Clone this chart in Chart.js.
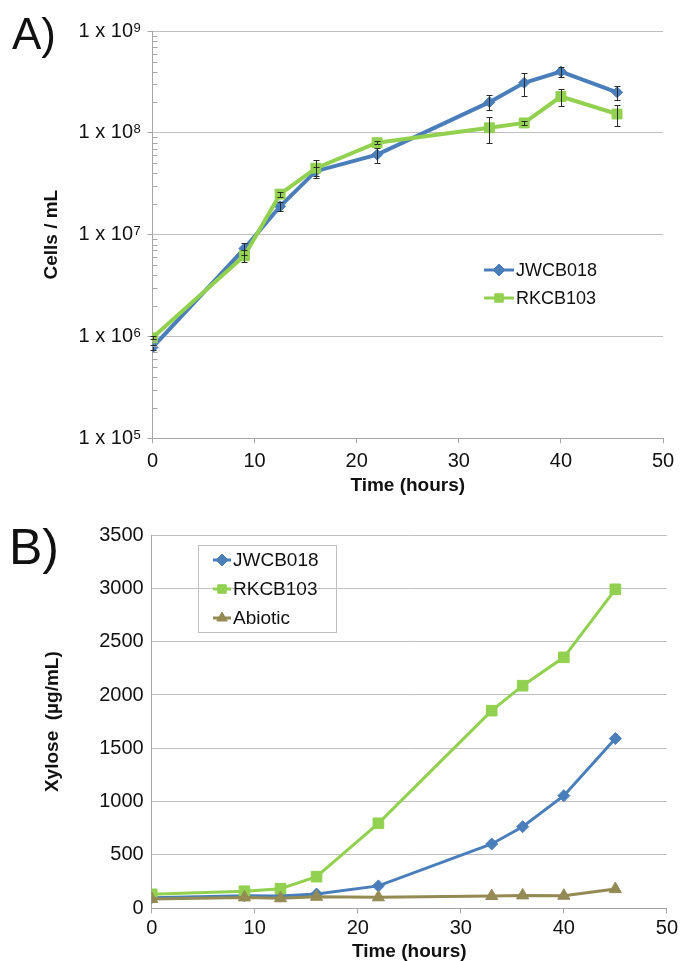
<!DOCTYPE html>
<html>
<head>
<meta charset="utf-8">
<script src="https://cdn.jsdelivr.net/npm/chart.js@4.4.0/dist/chart.umd.min.js"></script>
<style>
  body { margin: 0; background: #fff; width: 681px; height: 961px; overflow: hidden; position: relative; }
  canvas { position: absolute; left: 0; }
  #cellChart { top: 0; }
  #xyloseChart { top: 500px; }
  .panel { position: absolute; font-family: "Liberation Sans", Arial, sans-serif; line-height: 1; color: #111; }
</style>
</head>
<body>
<canvas id="cellChart" width="681" height="500"></canvas>
<canvas id="xyloseChart" width="681" height="461"></canvas>
<div class="panel" style="left:12px;top:12px;font-size:44px">A)</div>
<div class="panel" style="left:9px;top:522px;font-size:50px">B)</div>
<script>
// A) cell counts
const cellHours = [0, 9, 12.5, 16, 22, 33, 36.4, 40, 45.5];
const cellsJWCB018 = [7.8e5, 7.3e6, 1.9e7, 4.2e7, 6.1e7, 2.0e8, 3.1e8, 4.0e8, 2.5e8];
const cellsJWCB018Err = [5e4, 1.0e6, 1.8e6, 4e6, 1.0e7, 3.4e7, 8e7, 4.5e7, 4e7];
const cellsRKCB103 = [9.7e5, 6.2e6, 2.5e7, 4.5e7, 8.0e7, 1.12e8, 1.25e8, 2.27e8, 1.53e8];
const cellsRKCB103Err = [3e4, 8e5, 1.5e6, 9e6, 3e6, 3.2e7, 5e6, 4.5e7, 3.5e7];
const cellTicks = [1e5, 1e6, 1e7, 1e8, 1e9];

// B) xylose
const xyloseHours = [0, 9, 12.5, 16, 22, 33, 36, 40, 45];
const xyloseJWCB018 = [100, 118, 115, 134, 210, 603, 765, 1056, 1592];
const xyloseRKCB103 = [131, 160, 184, 297, 797, 1853, 2087, 2353, 2991];
const xyloseAbiotic = [87, 102, 94, 108, 103, 115, 121, 118, 180];
const xyloseTicks = [0, 500, 1000, 1500, 2000, 2500, 3000, 3500];

const hourTicks = [0, 10, 20, 30, 40, 50];

const BLUE = "#4a7ebb";
const GREEN = "#92d050";
const BROWN = "#948a54";
const GRID = "#bfbfbf";
const AXIS = "#a6a6a6";
const TEXT = "#111";
const FONT = '"Liberation Sans", Arial, sans-serif';

Chart.defaults.font.family = FONT;
Chart.defaults.color = TEXT;

const toPoints = (xs, ys) => xs.map((x, i) => ({ x, y: ys[i] }));

const errorBars = {
  id: "errorBars",
  afterDatasetsDraw(chart) {
    const { ctx, scales: { x, y } } = chart;
    ctx.save();
    ctx.strokeStyle = "#2a2a2a";
    ctx.lineWidth = 1;
    chart.data.datasets.forEach(ds => {
      if (!ds.errors) return;
      ds.data.forEach((p, i) => {
        const px = Math.round(x.getPixelForValue(p.x)) + 0.5;
        const top = Math.round(y.getPixelForValue(p.y + ds.errors[i])) + 0.5;
        const bot = Math.round(y.getPixelForValue(p.y - ds.errors[i])) + 0.5;
        ctx.beginPath();
        ctx.moveTo(px, top); ctx.lineTo(px, bot);
        ctx.moveTo(px - 3, top); ctx.lineTo(px + 3, top);
        ctx.moveTo(px - 3, bot); ctx.lineTo(px + 3, bot);
        ctx.stroke();
      });
    });
    ctx.restore();
  }
};

// minor ticks inside the log axis + superscript exponents after "1 x 10"
const logAxisExtras = {
  id: "logAxisExtras",
  afterDraw(chart) {
    const y = chart.scales.y;
    if (y.type !== "logarithmic") return;
    const ctx = chart.ctx;
    const x0 = chart.chartArea.left;
    ctx.save();
    ctx.strokeStyle = AXIS;
    ctx.lineWidth = 1;
    ctx.beginPath();
    for (let k = 0; k < cellTicks.length - 1; k++) {
      for (let m = 2; m <= 9; m++) {
        const py = Math.round(y.getPixelForValue(m * cellTicks[k])) + 0.5;
        ctx.moveTo(x0, py);
        ctx.lineTo(x0 + 5, py);
      }
    }
    ctx.stroke();
    ctx.fillStyle = TEXT;
    ctx.font = "13px " + FONT;
    ctx.textAlign = "left";
    ctx.textBaseline = "alphabetic";
    cellTicks.forEach(v => {
      ctx.fillText(String(Math.round(Math.log10(v))), x0 - 19, y.getPixelForValue(v) + 0.5);
    });
    ctx.restore();
  }
};

const insideLegend = {
  id: "insideLegend",
  afterDraw(chart, args, opts) {
    if (!opts || opts.x === undefined) return;
    const ctx = chart.ctx;
    ctx.save();
    if (opts.box) {
      ctx.strokeStyle = GRID;
      ctx.lineWidth = 1;
      ctx.strokeRect(opts.box[0] + 0.5, opts.box[1] + 0.5, opts.box[2], opts.box[3]);
    }
    chart.data.datasets.forEach((ds, i) => {
      const y = opts.y + i * opts.rowHeight;
      ctx.strokeStyle = ds.borderColor;
      ctx.lineWidth = opts.lineWidth;
      ctx.beginPath();
      ctx.moveTo(opts.x, y);
      ctx.lineTo(opts.x + opts.lineLen, y);
      ctx.stroke();
      ctx.fillStyle = ds.backgroundColor;
      ctx.strokeStyle = ds.borderColor;
      ctx.lineWidth = 1;
      Chart.helpers.drawPoint(ctx, { pointStyle: ds.pointStyle, radius: opts.radius, rotation: 0, borderWidth: 1 }, opts.x + opts.lineLen / 2, y);
      ctx.fillStyle = TEXT;
      ctx.font = opts.fontSize + "px " + FONT;
      ctx.textBaseline = "middle";
      ctx.textAlign = "left";
      ctx.fillText(ds.label, opts.x + opts.lineLen + 2, y + 1);
    });
    ctx.restore();
  }
};

function hourAxis(height, tickPad, titlePad, lineHeight) {
  return {
    type: "linear",
    min: 0,
    max: 50,
    afterBuildTicks: s => { s.ticks = hourTicks.map(v => ({ value: v })); },
    afterFit: s => { s.height = height; },
    border: { color: AXIS },
    grid: { drawOnChartArea: false, tickLength: 5, tickColor: AXIS },
    ticks: { font: { size: 20 }, padding: tickPad, maxRotation: 0 },
    title: {
      display: true,
      text: "Time (hours)",
      font: { size: 19, weight: "bold", lineHeight: lineHeight },
      padding: { top: 0, bottom: titlePad }
    }
  };
}

new Chart(document.getElementById("cellChart"), {
  type: "line",
  data: {
    datasets: [
      {
        label: "JWCB018",
        data: toPoints(cellHours, cellsJWCB018),
        errors: cellsJWCB018Err,
        borderColor: BLUE,
        backgroundColor: BLUE,
        borderWidth: 4,
        pointStyle: "rectRot",
        pointRadius: 5.5,
        pointBorderWidth: 1,
        order: 2
      },
      {
        label: "RKCB103",
        data: toPoints(cellHours, cellsRKCB103),
        errors: cellsRKCB103Err,
        borderColor: GREEN,
        backgroundColor: GREEN,
        borderWidth: 4,
        pointStyle: "rect",
        pointRadius: 7,
        pointBorderWidth: 1,
        order: 1
      }
    ]
  },
  options: {
    responsive: false,
    animation: false,
    layout: { padding: { top: 31, right: 18, bottom: 0, left: 0 } },
    plugins: {
      legend: { display: false },
      tooltip: { enabled: false },
      insideLegend: { x: 484, y: 270, rowHeight: 28, lineLen: 30, lineWidth: 3, radius: 6, fontSize: 18 }
    },
    scales: {
      x: hourAxis(61.7, 6, 2.5, 1.2),
      y: {
        type: "logarithmic",
        min: 1e5,
        max: 1e9,
        afterBuildTicks: s => { s.ticks = cellTicks.map(v => ({ value: v })); },
        afterFit: s => { s.width = 152.5; },
        border: { color: AXIS },
        grid: { color: GRID, tickLength: 5, tickColor: AXIS },
        ticks: {
          font: { size: 20 },
          padding: 14.5,
          callback: () => "1 x 10"
        },
        title: {
          display: true,
          text: "Cells / mL",
          font: { size: 19, weight: "bold" },
          padding: { top: 40, bottom: 0 }
        }
      }
    }
  },
  plugins: [errorBars, logAxisExtras, insideLegend]
});

new Chart(document.getElementById("xyloseChart"), {
  type: "line",
  data: {
    datasets: [
      {
        label: "JWCB018",
        data: toPoints(xyloseHours, xyloseJWCB018),
        borderColor: BLUE,
        backgroundColor: BLUE,
        borderWidth: 3,
        pointStyle: "rectRot",
        pointRadius: 6,
        pointBorderWidth: 1,
        order: 3
      },
      {
        label: "RKCB103",
        data: toPoints(xyloseHours, xyloseRKCB103),
        borderColor: GREEN,
        backgroundColor: GREEN,
        borderWidth: 3,
        pointStyle: "rect",
        pointRadius: 7.5,
        pointBorderWidth: 1,
        order: 2
      },
      {
        label: "Abiotic",
        data: toPoints(xyloseHours, xyloseAbiotic),
        borderColor: BROWN,
        backgroundColor: BROWN,
        borderWidth: 3,
        pointStyle: "triangle",
        pointRadius: 7,
        pointBorderWidth: 1,
        order: 1
      }
    ]
  },
  options: {
    responsive: false,
    animation: false,
    layout: { padding: { top: 35, right: 12, bottom: 0, left: 0 } },
    plugins: {
      legend: { display: false },
      tooltip: { enabled: false },
      insideLegend: { x: 213, y: 60, rowHeight: 29, lineLen: 18, lineWidth: 3, radius: 6, fontSize: 19, box: [198, 45, 138, 87] }
    },
    scales: {
      x: hourAxis(52.7, 3, 0, 1),
      y: {
        type: "linear",
        min: 0,
        max: 3500,
        afterBuildTicks: s => { s.ticks = xyloseTicks.map(v => ({ value: v })); },
        afterFit: s => { s.width = 151.7; },
        border: { color: AXIS },
        grid: { color: GRID, drawTicks: false },
        ticks: { font: { size: 20 }, padding: 8, callback: v => String(v) },
        title: {
          display: true,
          text: "Xylose  (µg/mL)",
          font: { size: 19, weight: "bold" },
          padding: { top: 41.5, bottom: 0 }
        }
      }
    }
  },
  plugins: [insideLegend]
});
</script>
</body>
</html>
